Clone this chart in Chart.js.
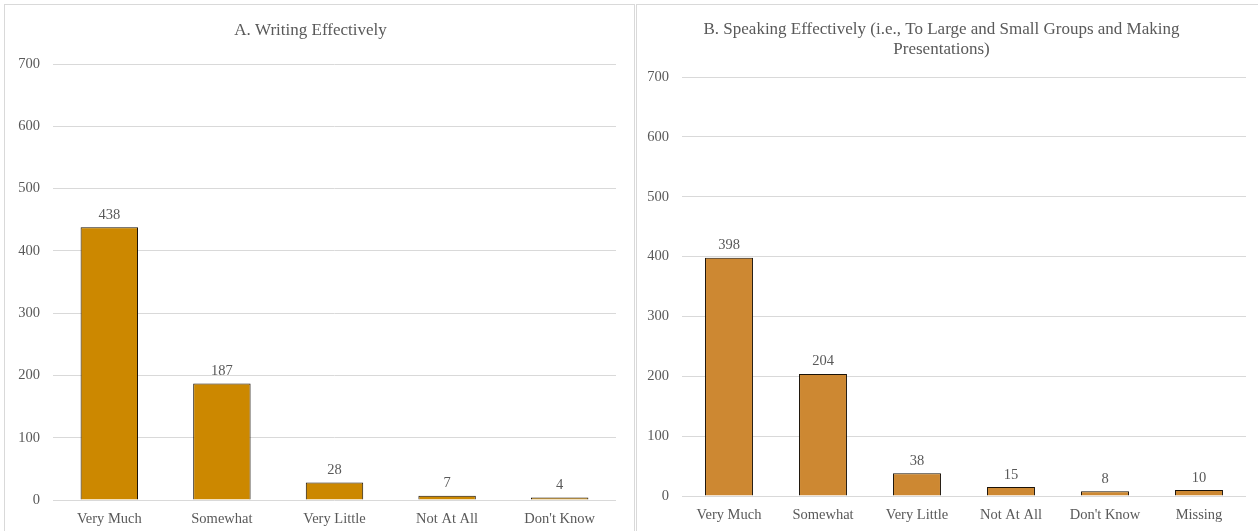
<!DOCTYPE html>
<html>
<head>
<meta charset="utf-8">
<script src="https://cdn.jsdelivr.net/npm/chart.js@4"></script>
<style>
  body { margin: 0; background: #fff; width: 1258px; height: 531px; overflow: hidden; position: relative; }
  .panel { position: absolute; top: 4px; border: 1px solid #d9d9d9; height: 530px; background: #fff; }
  #panelA { left: 4px; width: 629px; }
  #panelB { left: 636px; width: 621px; }
  canvas { display: block; }
</style>
</head>
<body>
<div class="panel" id="panelA"><canvas id="chartA"></canvas></div>
<div class="panel" id="panelB"><canvas id="chartB"></canvas></div>
<script>
// Panel A: Writing Effectively
const labelsA = ["Very Much", "Somewhat", "Very Little", "Not At All", "Don't Know"];
const valuesA = [438, 187, 28, 7, 4];

// Panel B: Speaking Effectively
const labelsB = ["Very Much", "Somewhat", "Very Little", "Not At All", "Don't Know", "Missing"];
const valuesB = [398, 204, 38, 15, 8, 10];

const yTicks = [0, 100, 200, 300, 400, 500, 600, 700];

const FONT = "'Liberation Serif', 'Times New Roman', serif";
const TEXT = "#595959";

// draws the value above each bar
const barValues = {
  id: "barValues",
  afterDatasetsDraw(chart) {
    const ctx = chart.ctx;
    ctx.save();
    ctx.font = "14.5px " + FONT;
    ctx.fillStyle = TEXT;
    ctx.textAlign = "center";
    ctx.textBaseline = "bottom";
    chart.getDatasetMeta(0).data.forEach((bar, i) => {
      ctx.fillText(chart.data.datasets[0].data[i], bar.x, bar.y - 5);
    });
    ctx.restore();
  }
};

function makeChart(id, labels, values, color, title, opts) {
  return new Chart(document.getElementById(id), {
    type: "bar",
    data: {
      labels: labels,
      datasets: [{
        data: values,
        backgroundColor: color,
        borderColor: "#1a1208",
        borderWidth: 1,
        barPercentage: 0.51,
        categoryPercentage: 1
      }]
    },
    plugins: [barValues],
    options: {
      responsive: true,
      maintainAspectRatio: false,
      animation: false,
      layout: { padding: { left: 0, right: opts.right, top: 0, bottom: 0 } },
      plugins: {
        legend: { display: false },
        tooltip: { enabled: false },
        title: {
          display: true,
          text: title,
          color: TEXT,
          font: { family: FONT, size: 17, weight: "normal", lineHeight: opts.titleLH },
          padding: { top: opts.titleTop, bottom: opts.titleBottom }
        }
      },
      scales: {
        x: {
          grid: { display: false, drawTicks: false },
          border: { display: false },
          ticks: { color: TEXT, font: { family: FONT, size: 14.5 }, padding: 10, maxRotation: 0 },
          afterFit: s => { s.height = opts.xHeight; }
        },
        y: {
          min: 0,
          max: 700,
          afterBuildTicks: s => { s.ticks = yTicks.map(v => ({ value: v })); },
          grid: { color: "#d9d9d9", drawTicks: false },
          border: { display: false },
          ticks: { color: TEXT, font: { family: FONT, size: 14.5 }, padding: 13 },
          afterFit: s => { s.width = opts.yWidth; }
        }
      }
    }
  });
}

makeChart("chartA", labelsA, valuesA, "#cc8800", "A. Writing Effectively",
  { right: 18, titleTop: 17, titleBottom: 25, titleLH: 1, xHeight: 35, yWidth: 48 });

makeChart("chartB", labelsB, valuesB, "#cd8832",
  ["B. Speaking Effectively (i.e., To Large and Small Groups and Making", "Presentations)"],
  { right: 12, titleTop: 14.5, titleBottom: 17.5, titleLH: 1.18, xHeight: 39, yWidth: 45 });
</script>
</body>
</html>
